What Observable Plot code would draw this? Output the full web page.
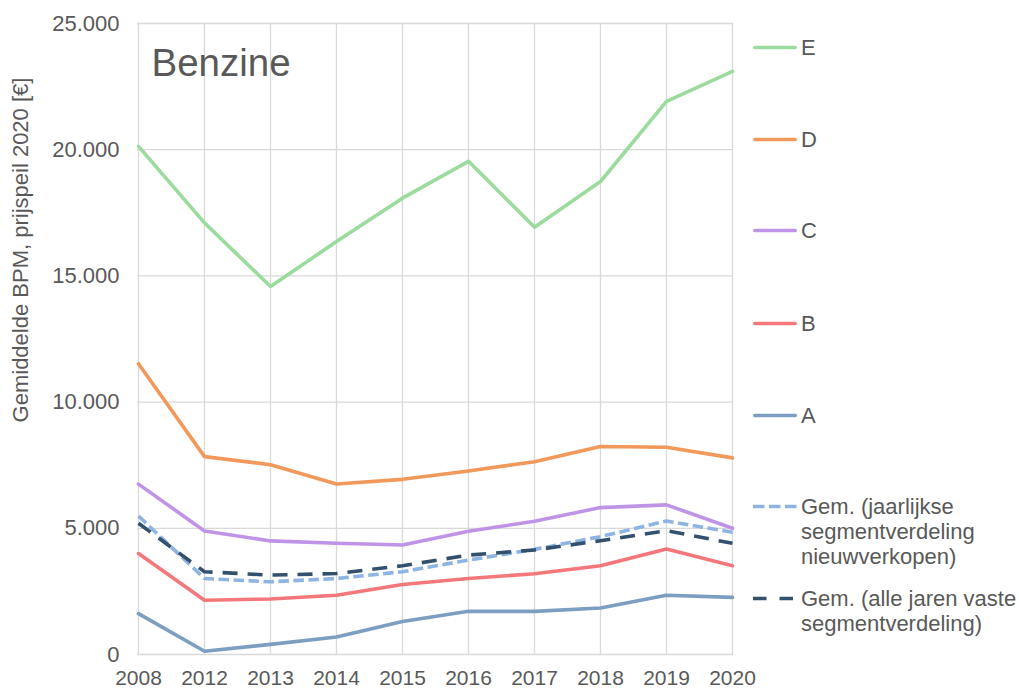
<!DOCTYPE html>
<html>
<head>
<meta charset="utf-8">
<script src="https://cdn.jsdelivr.net/npm/d3@7"></script>
<script src="https://cdn.jsdelivr.net/npm/@observablehq/plot@0.6"></script>
<style>
  html, body { margin: 0; padding: 0; background: #fff; }
  #wrap { position: relative; width: 1019px; height: 690px; font-family: "Liberation Sans", Arial, sans-serif; color: #595959; }
  #legend { position: absolute; left: 753px; top: 0; width: 266px; }
  .item { position: absolute; left: 0; display: flex; align-items: flex-start; font-size: 22px; line-height: 25px; color: #595959; white-space: nowrap; }
  .item svg { flex: none; }
  .item span { margin-left: 3px; }
  #ytitle { position: absolute; left: 21px; top: 250px; transform: translate(-50%, -50%) rotate(-90deg); white-space: nowrap; font-size: 22px; color: #595959; }
</style>
</head>
<body>
<div id="wrap">
  <div id="chart"></div>
  <div id="ytitle">Gemiddelde BPM, prijspeil 2020 [€]</div>
  <div id="legend"></div>
</div>
<script>
const years = ["2008","2012","2013","2014","2015","2016","2017","2018","2019","2020"];
const segA = [1620, 130, 400, 690, 1310, 1710, 1710, 1840, 2345, 2265];
const segB = [4000, 2150, 2200, 2350, 2775, 3010, 3200, 3515, 4180, 3515];
const segC = [6750, 4895, 4500, 4405, 4340, 4880, 5280, 5820, 5930, 5000];
const segD = [11520, 7840, 7520, 6755, 6940, 7270, 7640, 8240, 8210, 7790];
const segE = [20130, 17100, 14580, 16360, 18080, 19540, 16930, 18740, 21915, 23100];
const gemJaarlijks = [5490, 3010, 2880, 3010, 3280, 3740, 4165, 4670, 5290, 4840];
const gemVast = [5200, 3280, 3145, 3210, 3515, 3940, 4140, 4510, 4905, 4405];
const yTicks = [0, 5000, 10000, 15000, 20000, 25000];

const seriesNames = ["A","B","C","D","E","Gem. (jaarlijkse segmentverdeling nieuwverkopen)","Gem. (alle jaren vaste segmentverdeling)"];
const seriesValues = [segA, segB, segC, segD, segE, gemJaarlijks, gemVast];
const colors = ["#7B9EC1", "#F4787B", "#BF94E6", "#F0995B", "#9BDB9D", "#8EB4E3", "#33506E"];
const dashes = [null, null, null, null, null, "10.5,4.5", "15,10"];
const legendDashes = [null, null, null, null, null, "11.5,4.5", "13.5,13"];

const rows = [];
seriesNames.forEach((s, i) => {
  years.forEach((yr, j) => rows.push({series: s, year: yr, value: seriesValues[i][j]}));
});

const fmt = v => v === 0 ? "0" : d3.format(",")(v).replace(/,/g, ".");

const marks = [
  Plot.ruleY(yTicks, {stroke: "#d9d9d9", strokeWidth: 1.3}),
  Plot.ruleX(years, {stroke: "#d9d9d9", strokeWidth: 1.3}),
  Plot.axisY({ticks: yTicks, tickSize: 0, tickPadding: 18, tickFormat: fmt, fontSize: 22, fill: "#595959", label: null}),
  Plot.axisX({tickSize: 0, tickPadding: 16, fontSize: 21, fill: "#595959", label: null}),
  Plot.text(["Benzine"], {frameAnchor: "top-left", dx: 14, dy: 52, fontSize: 38.5, fill: "#595959", textAnchor: "start", lineAnchor: "bottom"})
];
seriesNames.forEach((s, i) => {
  marks.push(Plot.line(rows.filter(r => r.series === s), {
    x: "year", y: "value", stroke: colors[i], strokeWidth: 3.6,
    strokeDasharray: dashes[i] || undefined, strokeLinejoin: "round", strokeLinecap: dashes[i] ? "butt" : "round"
  }));
});

const chart = Plot.plot({
  width: 1019,
  height: 690,
  marginLeft: 137,
  marginRight: 286,
  marginTop: 23,
  marginBottom: 36,
  style: {fontFamily: "Liberation Sans, Arial, sans-serif", color: "#595959", background: "#fff"},
  x: {type: "point", domain: years, padding: 0},
  y: {domain: [0, 25000]},
  marks
});
document.getElementById("chart").appendChild(chart);

// legend
const legendLayout = [
  {idx: 4, top: 34.8, lines: ["E"]},
  {idx: 3, top: 126.5, lines: ["D"]},
  {idx: 2, top: 218.2, lines: ["C"]},
  {idx: 1, top: 310.8, lines: ["B"]},
  {idx: 0, top: 402.5, lines: ["A"]},
  {idx: 5, top: 494.2, lines: ["Gem. (jaarlijkse", "segmentverdeling", "nieuwverkopen)"]},
  {idx: 6, top: 585.8, lines: ["Gem. (alle jaren vaste", "segmentverdeling)"]}
];
const legend = document.getElementById("legend");
legendLayout.forEach(l => {
  const item = document.createElement("div");
  item.className = "item";
  item.style.top = l.top + "px";
  const dash = legendDashes[l.idx];
  item.innerHTML =
    `<svg width="45" height="25"><line x1="${dash ? 0 : 1.8}" x2="${dash ? 44 : 42.2}" y1="12.5" y2="12.5" stroke="${colors[l.idx]}" stroke-width="3.6" stroke-linecap="${dash ? "butt" : "round"}" ${dash ? `stroke-dasharray="${dash}"` : ""}/></svg>` +
    `<span>${l.lines.join("<br>")}</span>`;
  legend.appendChild(item);
});
</script>
</body>
</html>
